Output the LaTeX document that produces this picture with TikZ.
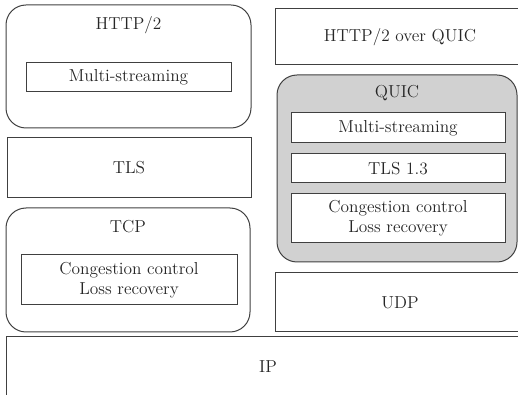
\documentclass[tikz,border=0pt]{standalone}
\usepackage{tikz}
\begin{document}
\begin{tikzpicture}[x=0.75pt,y=-0.75pt,
    font=\fontsize{13}{15}\selectfont,
    every node/.style={text=black!85, align=center},
    layer/.style={draw=black!75, line width=0.75pt, inner sep=0pt},
    group/.style={layer, rounded corners=15pt}]
  \useasboundingbox (0,0) rectangle (518,395);

  % TCP stack
  \node[group, minimum width=183.75pt, minimum height=92.25pt] (http) at (128.5,66.5) {};
  \node (httptitle) at (128.5,25) {HTTP/2};
  \node[layer, minimum width=153.75pt, minimum height=21.75pt] (httpms) at (128.5,77.5) {Multi-streaming};
  \node[layer, minimum width=183pt, minimum height=45pt] (tls) at (129,168) {TLS};
  \node[group, minimum width=183pt, minimum height=93pt] (tcp) at (128,270) {};
  \node (tcptitle) at (128,227) {TCP};
  \node[layer, minimum width=162pt, minimum height=37.5pt] (tcpcc) at (129,280) {Congestion control\\Loss recovery};

  % QUIC stack
  \node[layer, minimum width=187.5pt, minimum height=42pt] (hq) at (400,37) {HTTP/2 over QUIC};
  \node[group, fill=black!18, minimum width=180pt, minimum height=140.25pt] (quic) at (397,168.5) {};
  \node (quictitle) at (397,93) {QUIC};
  \node[layer, fill=white, minimum width=160.5pt, minimum height=22.5pt] (quicms) at (398,128) {Multi-streaming};
  \node[layer, fill=white, minimum width=160.5pt, minimum height=21.75pt] (quictls) at (398,168.5) {TLS 1.3};
  \node[layer, fill=white, minimum width=160.5pt, minimum height=36.75pt] (quiccc) at (398,218.5) {Congestion control\\Loss recovery};
  \node[layer, minimum width=187.5pt, minimum height=44.25pt] (udp) at (400,302.5) {UDP};

  \node[layer, minimum width=393pt, minimum height=45pt] (ip) at (268,367) {IP};
\end{tikzpicture}
\end{document}
